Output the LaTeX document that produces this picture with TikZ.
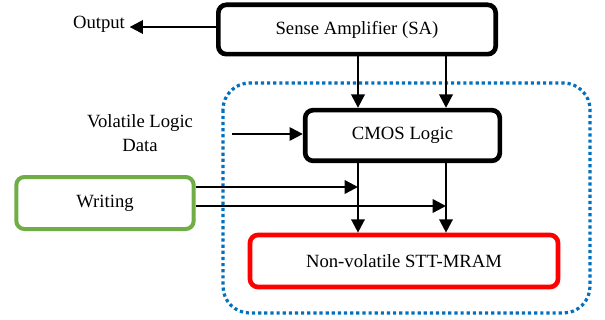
\documentclass[tikz,border=0pt]{standalone}
\usepackage{fontspec}
\setmainfont{Liberation Serif}
\usetikzlibrary{arrows.meta}

\definecolor{dotblue}{RGB}{0,112,192}
\definecolor{wrgreen}{RGB}{112,173,71}

\tikzset{
    blk/.style={draw, rounded corners=6pt, line width=3.5pt, align=center},
    arr/.style={line width=1.8pt, -{Triangle[length=10pt,width=10pt]}}
}

\begin{document}
\begin{tikzpicture}[x=0.75pt, y=-0.75pt, font=\fontsize{14}{16}\selectfont]
        \useasboundingbox (0,0) rectangle (605,320);
        % dotted region
        \draw[dotblue, line width=2.4pt, dash pattern=on 2.4pt off 2.2pt, rounded corners=20pt] (223,83) rectangle (590,313);
        % blocks
        \node[blk, minimum width=208pt, minimum height=37pt] (SA) at (357,29.5) {Sense Amplifier (SA)};
        \node[blk, minimum width=146pt, minimum height=38pt] (CMOS) at (402.5,135.5) {CMOS Logic};
        \node[blk, draw=wrgreen, line width=3pt, minimum width=133pt, minimum height=39pt] (Wr) at (105,203) {Writing};
        \node[blk, draw=red, minimum width=231pt, minimum height=39pt] (MRAM) at (404,261) {Non-volatile STT-MRAM};
        \node (out) at (99,24) {Output};
        \node[align=center] (vol) at (140,133) {Volatile Logic\\[2pt]Data};
        \coordinate (c1) at (358,0);
        \coordinate (c2) at (446,0);
        \coordinate (vin) at (232,134);
        \coordinate (w1) at (0,187);
        \coordinate (w2) at (0,206);
        % connectors
        \draw[arr] (SA.west |- 0,27) -- (out.east |- 0,27);
        \draw[arr] (SA.south -| c1) -- (CMOS.north -| c1);
        \draw[arr] (SA.south -| c2) -- (CMOS.north -| c2);
        \draw[arr] (vin) -- (CMOS.west |- vin);
        \draw[arr] (CMOS.south -| c1) -- (MRAM.north -| c1);
        \draw[arr] (CMOS.south -| c2) -- (MRAM.north -| c2);
        \draw[arr] (Wr.east |- w1) -- (c1 |- w1);
        \draw[arr] (Wr.east |- w2) -- (c2 |- w2);
\end{tikzpicture}
\end{document}
